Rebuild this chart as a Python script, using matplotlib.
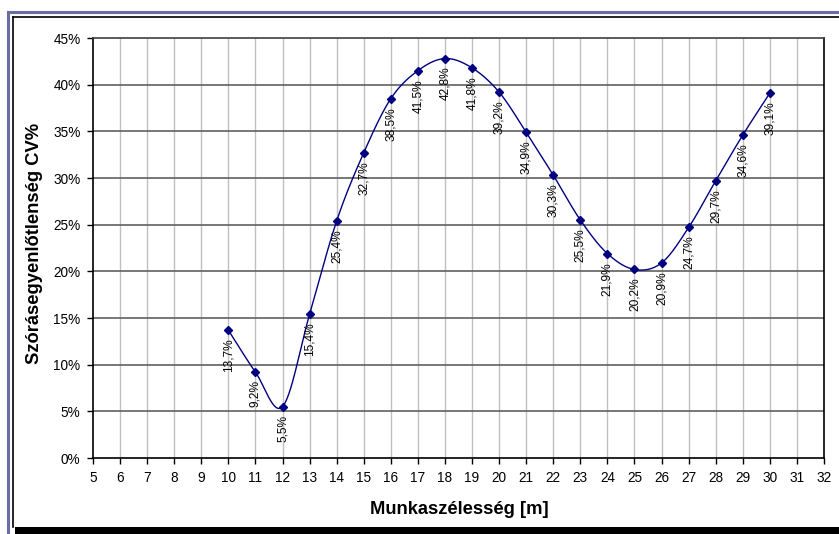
import numpy as np
import matplotlib
matplotlib.use("Agg")
import matplotlib.pyplot as plt
from matplotlib.lines import Line2D
from matplotlib.patches import Rectangle

plt.rcParams['font.family'] = ['Liberation Sans', 'DejaVu Sans']

widths = [10, 11, 12, 13, 14, 15, 16, 17, 18, 19, 20, 21, 22, 23, 24, 25, 26, 27, 28, 29, 30]
cv = [13.7, 9.2, 5.5, 15.4, 25.4, 32.7, 38.5, 41.5, 42.8, 41.8, 39.2, 34.9, 30.3, 25.5,
      21.9, 20.2, 20.9, 24.7, 29.7, 34.6, 39.1]
x_ticks = list(range(5, 33))
y_ticks = [0, 5, 10, 15, 20, 25, 30, 35, 40, 45]
x_label = "Munkaszélesség [m]"
y_label = "Szórásegyenlőtlenség CV%"

W, H = 839, 534
fig = plt.figure(figsize=(W / 100, H / 100), dpi=100)
ax = fig.add_axes([93 / W, 1 - 458 / H, (824 - 93) / W, (458 - 38) / H])

# smooth curve (Catmull-Rom style bezier like spreadsheet smoothing)
xs = np.array(widths, float)
ys = np.array(cv, float) / 100
sx = 1 / 27.0
sy = 1 / 0.45 * (420 / 731)
px = xs * sx
py = ys * sy
cx, cy = [], []
n = len(px)
t = np.linspace(0, 1, 30)
for i in range(n - 1):
    p0 = np.array([px[max(i - 1, 0)], py[max(i - 1, 0)]])
    p1 = np.array([px[i], py[i]])
    p2 = np.array([px[i + 1], py[i + 1]])
    p3 = np.array([px[min(i + 2, n - 1)], py[min(i + 2, n - 1)]])
    c1 = p1 + (p2 - p0) / 6
    c2 = p2 - (p3 - p1) / 6
    for tt in t:
        b = ((1 - tt) ** 3) * p1 + 3 * ((1 - tt) ** 2) * tt * c1 + 3 * (1 - tt) * tt ** 2 * c2 + tt ** 3 * p2
        cx.append(b[0] / sx)
        cy.append(b[1] / sy)

ax.plot(cx, cy, color='#000080', lw=1.0, zorder=3)
ax.plot(xs, ys, linestyle='none', marker='D', markersize=4.5, color='#000080', zorder=4)

for x, v in zip(widths, cv):
    ax.annotate(f"{v:.1f}%".replace('.', ','), (x, v / 100), xytext=(0, -6),
                textcoords='offset points', rotation=90, ha='center', va='top',
                fontsize=8.6, color='black', zorder=5)

ax.set_xlim(5, 32)
ax.set_ylim(0, 0.45)
ax.set_xticks(x_ticks)
ax.set_xticklabels([str(v) for v in x_ticks], fontsize=9.8)
ax.set_yticks([v / 100 for v in y_ticks])
ax.set_yticklabels([f"{v}%" for v in y_ticks], fontsize=9.8)
ax.tick_params(direction='out', length=4, width=1, color='black', pad=5)

for x in x_ticks[1:-1]:
    ax.axvline(x, color='#c0c0c0', lw=1.0, zorder=1)
for y in y_ticks[1:-1]:
    ax.axhline(y / 100, color='#606060', lw=1.2, zorder=1)

for s in ['left', 'bottom', 'right']:
    ax.spines[s].set_color('black')
    ax.spines[s].set_linewidth(1.2)
ax.spines['top'].set_color('#404040')
ax.spines['top'].set_linewidth(1.2)

fig.text(459 / W, 1 - 510 / H, x_label, fontsize=13.2, fontweight='bold',
         ha='center', va='center')
fig.text(35 / W, 1 - 243 / H, y_label, fontsize=13.2, fontweight='bold',
         ha='center', va='center', rotation=90)

def fx(p):
    return p / W
def fy(p):
    return 1 - p / H

fig.add_artist(Line2D([fx(8), fx(8)], [fy(12), fy(534)], color='#6b6ba8', lw=2.2))
fig.add_artist(Line2D([fx(8), fx(839)], [fy(12), fy(12)], color='#6b6ba8', lw=2.2))
fig.add_artist(Line2D([fx(13), fx(13)], [fy(17), fy(527)], color='black', lw=1.2))
fig.add_artist(Line2D([fx(13), fx(839)], [fy(17), fy(17)], color='black', lw=1.2))
fig.add_artist(Rectangle((fx(15), 0), 1 - fx(15), (534 - 527) / H, color='black', lw=0))

fig.savefig("out.png", dpi=100)
